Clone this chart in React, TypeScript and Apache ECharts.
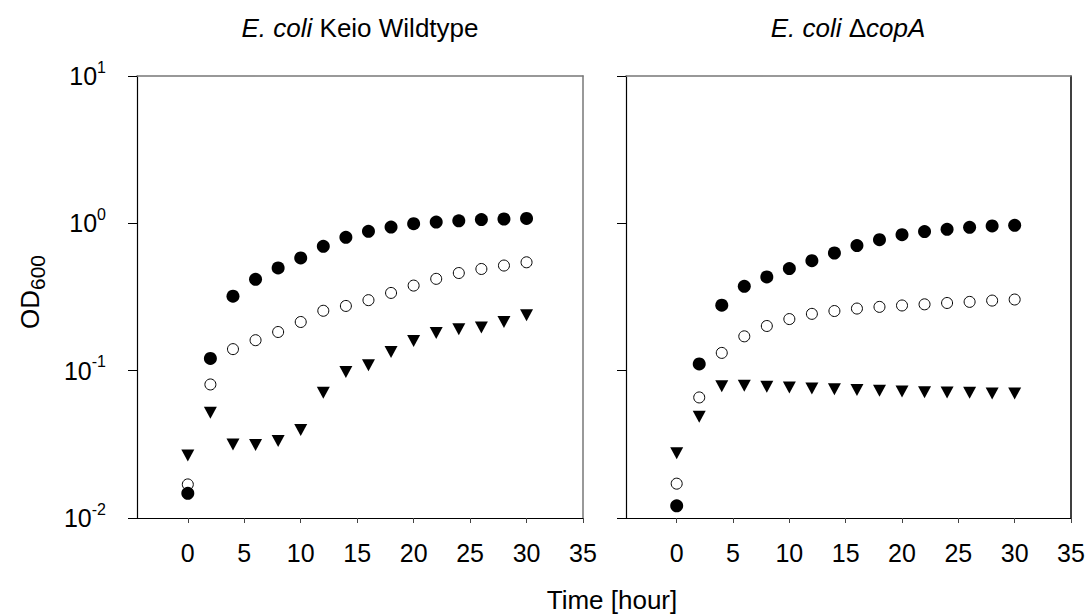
import React, { useEffect, useRef } from "react";
import * as echarts from "echarts";

const hours = [0, 2, 4, 6, 8, 10, 12, 14, 16, 18, 20, 22, 24, 26, 28, 30];
const wtFilled = [0.0147, 0.121, 0.32, 0.417, 0.498, 0.582, 0.698, 0.804, 0.883, 0.944, 0.995, 1.02, 1.04, 1.06, 1.07, 1.08];
const wtOpen = [0.0169, 0.0806, 0.14, 0.161, 0.183, 0.214, 0.255, 0.275, 0.301, 0.337, 0.378, 0.42, 0.46, 0.49, 0.517, 0.544];
const wtTri = [0.0266, 0.0518, 0.0316, 0.0313, 0.0333, 0.0395, 0.0708, 0.098, 0.109, 0.134, 0.159, 0.18, 0.191, 0.196, 0.214, 0.238];
const copFilled = [0.0121, 0.111, 0.278, 0.374, 0.433, 0.493, 0.558, 0.629, 0.706, 0.775, 0.838, 0.879, 0.91, 0.94, 0.96, 0.97];
const copOpen = [0.0171, 0.0658, 0.132, 0.171, 0.201, 0.224, 0.243, 0.254, 0.264, 0.271, 0.277, 0.282, 0.288, 0.293, 0.299, 0.304];
const copTri = [0.0275, 0.0486, 0.0785, 0.0789, 0.0777, 0.0769, 0.0757, 0.0749, 0.0738, 0.073, 0.0723, 0.0715, 0.0711, 0.0708, 0.07, 0.07];

const xTicks = [0, 5, 10, 15, 20, 25, 30, 35];
const titles = ["{i|E. coli}{n| Keio Wildtype}", "{i|E. coli }{n|Δ}{i|copA}"];
const xName = "Time [hour]";
const yName = "{a|OD}{b|600}";

const FONT = "'Liberation Sans', Arial, sans-serif";

function pair(xs: number[], ys: number[]) {
  return xs.map((x, i) => [x, ys[i]]);
}

export default function App() {
  const ref = useRef<HTMLDivElement>(null);
  useEffect(() => {
    if (!ref.current) return;
    const chart = echarts.init(ref.current, undefined, { renderer: "svg" });

    const grids = [
      { left: 137, top: 76, width: 446, height: 442 },
      { left: 626, top: 76, width: 445, height: 442 },
    ];

    const mainX = (gi: number) => ({
      gridIndex: gi,
      type: "value",
      min: -4.5,
      max: 35,
      axisLine: { show: true, onZero: false, lineStyle: { color: "#000", width: 1.2 } },
      axisTick: { show: true, inside: false, length: 5, customValues: xTicks, lineStyle: { color: "#444", width: 1 } },
      axisLabel: { show: true, customValues: xTicks, margin: 22, fontSize: 25, fontFamily: FONT, color: "#000" },
      splitLine: { show: false },
    });
    const topX = (gi: number) => ({
      gridIndex: gi,
      type: "value",
      position: "top",
      min: -4.5,
      max: 35,
      axisLine: { show: true, onZero: false, lineStyle: { color: "#777", width: 1.5 } },
      axisTick: { show: false },
      axisLabel: { show: false },
      splitLine: { show: false },
    });
    const mainY = (gi: number) => ({
      gridIndex: gi,
      type: "log",
      logBase: 10,
      min: 0.01,
      max: 10,
      position: "left",
      axisLine: { show: true, onZero: false, lineStyle: { color: "#000", width: 1.2 } },
      axisTick: { show: true, inside: false, length: 9, lineStyle: { color: "#000", width: 1 } },
      axisLabel: {
        show: gi === 0,
        margin: 31,
        formatter: (v: number) => `{m|10}{s|${Math.round(Math.log10(v))}}`,
        rich: {
          m: { fontSize: 25, fontFamily: FONT, color: "#000", lineHeight: 34, verticalAlign: "middle" },
          s: { fontSize: 16, fontFamily: FONT, color: "#000", lineHeight: 16, verticalAlign: "top" },
        },
      },
      splitLine: { show: false },
    });
    const rightY = (gi: number) => ({
      gridIndex: gi,
      type: "value",
      position: "right",
      axisLine: { show: true, onZero: false, lineStyle: { color: gi === 0 ? "#777" : "#000", width: 1.5 } },
      axisTick: { show: false },
      axisLabel: { show: false },
      splitLine: { show: false },
    });

    const filled = (gi: number, ys: number[]) => ({
      type: "scatter",
      xAxisIndex: gi,
      yAxisIndex: gi,
      data: pair(hours, ys),
      symbol: "circle",
      symbolSize: 13,
      itemStyle: { color: "#000", opacity: 1 },
      z: 4,
    });
    const open = (gi: number, ys: number[]) => ({
      type: "scatter",
      xAxisIndex: gi,
      yAxisIndex: gi,
      data: pair(hours, ys),
      symbol: "circle",
      symbolSize: 11,
      itemStyle: { color: "#fff", borderColor: "#000", borderWidth: 1, opacity: 1 },
      z: 2,
    });
    const tri = (gi: number, ys: number[]) => ({
      type: "scatter",
      xAxisIndex: gi,
      yAxisIndex: gi,
      data: pair(hours, ys),
      symbol: "triangle",
      symbolRotate: 180,
      symbolSize: [13, 12],
      itemStyle: { color: "#000", opacity: 1 },
      z: 3,
    });

    const titleRich = {
      i: { fontSize: 26, fontFamily: FONT, fontStyle: "italic", color: "#000" },
      n: { fontSize: 26, fontFamily: FONT, color: "#000" },
    };

    chart.setOption({
      animation: false,
      backgroundColor: "#fff",
      grid: grids,
      xAxis: [mainX(0), mainX(1), topX(0), topX(1)],
      yAxis: [mainY(0), mainY(1), rightY(0), rightY(1)],
      series: [
        open(0, wtOpen),
        tri(0, wtTri),
        filled(0, wtFilled),
        open(1, copOpen),
        tri(1, copTri),
        filled(1, copFilled),
      ],
      graphic: [
        {
          type: "text",
          x: 360,
          y: 28,
          style: { text: titles[0], rich: titleRich, align: "center", verticalAlign: "middle" },
        },
        {
          type: "text",
          x: 848,
          y: 28,
          style: { text: titles[1], rich: titleRich, align: "center", verticalAlign: "middle" },
        },
        {
          type: "text",
          x: 612,
          y: 600,
          style: { text: xName, fontSize: 26, fontFamily: FONT, fill: "#000", align: "center", verticalAlign: "middle" },
        },
        {
          type: "text",
          x: 30,
          y: 292,
          rotation: Math.PI / 2,
          style: {
            text: yName,
            align: "center",
            verticalAlign: "middle",
            rich: {
              a: { fontSize: 26, fontFamily: FONT, color: "#000", lineHeight: 36, verticalAlign: "middle" },
              b: { fontSize: 21, fontFamily: FONT, color: "#000", lineHeight: 21, verticalAlign: "bottom" },
            },
          },
        },
      ],
    });
    return () => chart.dispose();
  }, []);
  return (
    <div
      ref={ref}
      style={{ position: "fixed", left: 0, top: 0, width: 1089, height: 614, background: "#fff" }}
    />
  );
}
